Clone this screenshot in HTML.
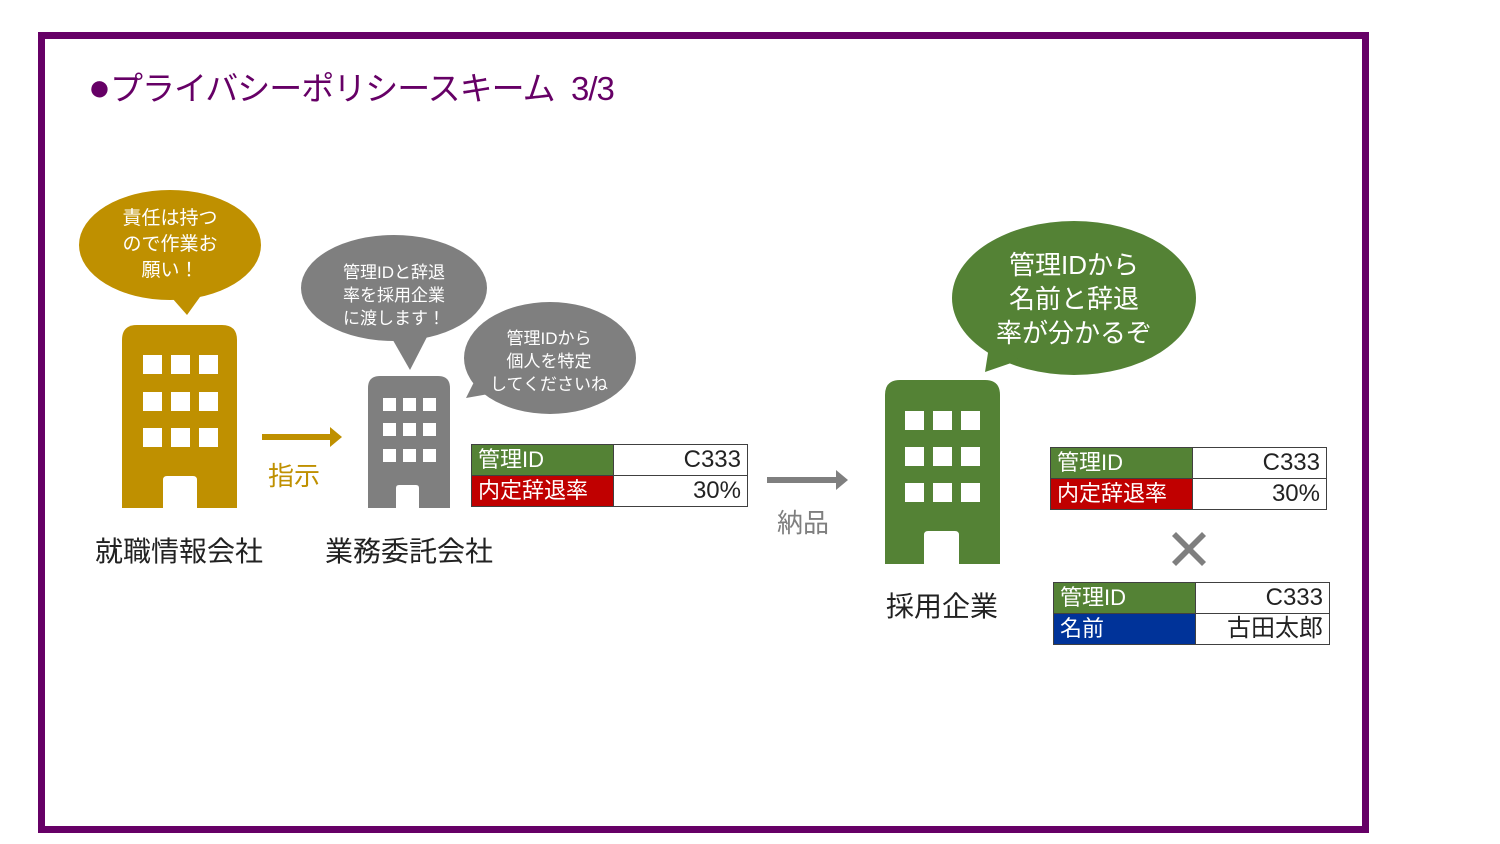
<!DOCTYPE html>
<html><head><meta charset="utf-8"><style>
body{margin:0;width:1500px;height:844px;background:#fff;position:relative;overflow:hidden;font-family:"Liberation Sans","Noto Sans CJK JP",sans-serif}
.a{position:absolute;white-space:nowrap}
table{position:absolute;border-collapse:collapse;font-size:22px}
td{border:1.5px solid #404040;height:30px;padding:0 6px;line-height:30px}
td.k{color:#fff;width:129px}
td.v{text-align:right;width:121px;color:#222;font-size:24px}
</style></head><body>
<div class="a" style="left:38px;top:32px;width:1317px;height:787px;border:7px solid #660066"></div>
<div class="a" style="left:88px;top:64px;font-size:33px;color:#660066;line-height:48px;letter-spacing:-1px"><span style="font-size:38px">●</span>プライバシーポリシースキーム&nbsp;&nbsp;3/3</div>
<svg class="a" style="left:0;top:0" width="1500" height="844">
<g fill="#BF9000">
<ellipse cx="170" cy="245" rx="91" ry="55"/><polygon points="165,290 205,290 187,315"/>
<path d="M122,508 V340 Q122,325 137,325 H222 Q237,325 237,340 V508 Z"/>
<rect x="262" y="434" width="70" height="6"/><polygon points="330,427 342,437 330,447"/>
</g>
<g fill="#fff">
<rect x="143" y="355" width="19" height="19"/><rect x="171" y="355" width="19" height="19"/><rect x="199" y="355" width="19" height="19"/>
<rect x="143" y="392" width="19" height="19"/><rect x="171" y="392" width="19" height="19"/><rect x="199" y="392" width="19" height="19"/>
<rect x="143" y="428" width="19" height="19"/><rect x="171" y="428" width="19" height="19"/><rect x="199" y="428" width="19" height="19"/>
<path d="M163,508 V480 Q163,476 167,476 H193 Q197,476 197,480 V508 Z"/>
</g>
<g fill="#7F7F7F">
<ellipse cx="394" cy="288" rx="93" ry="53"/><polygon points="390,335 428,335 410,370"/>
<path d="M368,508 V388 Q368,376 380,376 H438 Q450,376 450,388 V508 Z"/>
<ellipse cx="550" cy="358" rx="86" ry="56"/><polygon points="480,370 500,392 466,398"/>
<rect x="767" y="477" width="73" height="6"/><polygon points="836,470 848,480 836,490"/>
<polygon points="1172,536 1176,532 1189,545 1202,532 1206,536 1193,549 1206,562 1202,566 1189,553 1176,566 1172,562 1185,549"/>
</g>
<g fill="#fff">
<rect x="383" y="398" width="13" height="13"/><rect x="403" y="398" width="13" height="13"/><rect x="423" y="398" width="13" height="13"/>
<rect x="383" y="423" width="13" height="13"/><rect x="403" y="423" width="13" height="13"/><rect x="423" y="423" width="13" height="13"/>
<rect x="383" y="449" width="13" height="13"/><rect x="403" y="449" width="13" height="13"/><rect x="423" y="449" width="13" height="13"/>
<path d="M396,508 V488 Q396,485 399,485 H416 Q419,485 419,488 V508 Z"/>
</g>
<g fill="#548235">
<ellipse cx="1074" cy="298" rx="122" ry="77"/><polygon points="990,340 1020,360 985,372"/>
<path d="M885,564 V395 Q885,380 900,380 H985 Q1000,380 1000,395 V564 Z"/>
</g>
<g fill="#fff">
<rect x="905" y="411" width="19" height="19"/><rect x="933" y="411" width="19" height="19"/><rect x="961" y="411" width="19" height="19"/>
<rect x="905" y="447" width="19" height="19"/><rect x="933" y="447" width="19" height="19"/><rect x="961" y="447" width="19" height="19"/>
<rect x="905" y="483" width="19" height="19"/><rect x="933" y="483" width="19" height="19"/><rect x="961" y="483" width="19" height="19"/>
<path d="M924,564 V535 Q924,531 928,531 H955 Q959,531 959,535 V564 Z"/>
</g>
</svg>
<div class="a" style="left:100px;top:206px;width:140px;text-align:center;color:#fff;font-size:19px;line-height:26px">責任は持つ<br>ので作業お<br>願い！</div>
<div class="a" style="left:320px;top:261px;width:148px;text-align:center;color:#fff;font-size:17px;line-height:23px">管理IDと辞退<br>率を採用企業<br>に渡します！</div>
<div class="a" style="left:480px;top:327px;width:138px;text-align:center;color:#fff;font-size:17px;line-height:23px">管理IDから<br>個人を特定<br>してくださいね</div>
<div class="a" style="left:984px;top:248px;width:180px;text-align:center;color:#fff;font-size:26px;line-height:34px">管理IDから<br>名前と辞退<br>率が分かるぞ</div>
<div class="a" style="left:268px;top:456px;font-size:26px;color:#BF9000">指示</div>
<div class="a" style="left:777px;top:503px;font-size:26px;color:#7F7F7F">納品</div>
<div class="a" style="left:95px;top:530px;font-size:28px;color:#222">就職情報会社</div>
<div class="a" style="left:325px;top:530px;font-size:28px;color:#222">業務委託会社</div>
<div class="a" style="left:886px;top:585px;font-size:28px;color:#222">採用企業</div>
<table style="left:471px;top:444px"><tr><td class="k" style="background:#548235">管理ID</td><td class="v">C333</td></tr><tr><td class="k" style="background:#C00000">内定辞退率</td><td class="v">30%</td></tr></table>
<table style="left:1050px;top:447px"><tr><td class="k" style="background:#548235">管理ID</td><td class="v">C333</td></tr><tr><td class="k" style="background:#C00000">内定辞退率</td><td class="v">30%</td></tr></table>
<table style="left:1053px;top:582px"><tr><td class="k" style="background:#548235">管理ID</td><td class="v">C333</td></tr><tr><td class="k" style="background:#003399">名前</td><td class="v">古田太郎</td></tr></table>
</body></html>
